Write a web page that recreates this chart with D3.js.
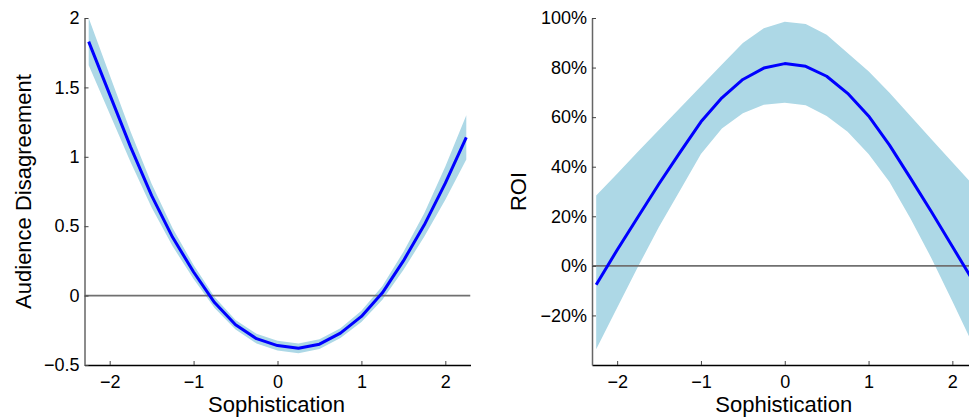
<!DOCTYPE html>
<html>
<head>
<meta charset="utf-8">
<script src="https://cdn.jsdelivr.net/npm/d3@7"></script>
<style>
  body { margin: 0; background: #fff; }
  text { font-family: "Liberation Sans", Arial, sans-serif; fill: #000; }
</style>
</head>
<body>
<svg id="chart" width="969" height="417"></svg>
<script>
// sophistication grid shared by both panels
const soph = [-2.25, -2, -1.75, -1.5, -1.25, -1, -0.75, -0.5, -0.25, 0, 0.25, 0.5, 0.75, 1, 1.25, 1.5, 1.75, 2, 2.25];

// left panel: audience disagreement
const disagree      = [1.83, 1.45, 1.07, 0.72, 0.42, 0.17, -0.05, -0.21, -0.31, -0.36, -0.38, -0.35, -0.27, -0.15, 0.02, 0.25, 0.51, 0.81, 1.14];
const disagreeUpper = [2.00, 1.59, 1.18, 0.805, 0.485, 0.22, -0.01, -0.175, -0.275, -0.325, -0.345, -0.315, -0.235, -0.11, 0.07, 0.315, 0.595, 0.93, 1.30];
const disagreeLower = [1.66, 1.31, 0.96, 0.635, 0.355, 0.12, -0.09, -0.245, -0.345, -0.395, -0.415, -0.385, -0.305, -0.19, -0.03, 0.185, 0.425, 0.69, 0.98];

// right panel: ROI
const roi      = [-0.076, 0.064, 0.198, 0.331, 0.458, 0.581, 0.678, 0.752, 0.798, 0.816, 0.805, 0.765, 0.696, 0.605, 0.487, 0.354, 0.218, 0.078, -0.062];
const roiUpper = [0.284, 0.372, 0.461, 0.549, 0.637, 0.725, 0.812, 0.899, 0.959, 0.985, 0.976, 0.932, 0.859, 0.785, 0.698, 0.605, 0.511, 0.418, 0.325];
const roiLower = [-0.336, -0.169, -0.003, 0.158, 0.304, 0.451, 0.554, 0.616, 0.650, 0.658, 0.648, 0.605, 0.541, 0.451, 0.338, 0.191, 0.031, -0.143, -0.32];

// ticks
const xTicks = [-2, -1, 0, 1, 2];
const leftTicks = [-0.5, 0, 0.5, 1, 1.5, 2];
const rightTicks = [-0.2, 0, 0.2, 0.4, 0.6, 0.8, 1.0];

const svg = d3.select('#chart');

function drawPanel(opts) {
    const { id, left, right, top, bottom, yDomain, yTicks, yFmt, yLabel, yLabelX, mid, lo, hi } = opts;

    const x = d3.scaleLinear().domain([-2.3, 2.3]).range([left, right]);
    const y = d3.scaleLinear().domain(yDomain).range([bottom, top]);

    svg.append('clipPath').attr('id', id)
        .append('rect')
        .attr('x', left).attr('y', top)
        .attr('width', right - left).attr('height', bottom - top);

    const g = svg.append('g');
    const plot = g.append('g').attr('clip-path', `url(#${id})`);

    const rows = soph.map((s, i) => ({ s, m: mid[i], lo: lo[i], hi: hi[i] }));

    // confidence band
    plot.append('path')
        .datum(rows)
        .attr('fill', '#add8e6')
        .attr('d', d3.area().x(d => x(d.s)).y0(d => y(d.lo)).y1(d => y(d.hi)));

    // zero reference
    plot.append('line')
        .attr('x1', left).attr('x2', right)
        .attr('y1', y(0)).attr('y2', y(0))
        .attr('stroke', '#707070')
        .attr('stroke-width', 1.6);

    // estimate
    plot.append('path')
        .datum(rows)
        .attr('fill', 'none')
        .attr('stroke', '#0000ff')
        .attr('stroke-width', 3)
        .attr('stroke-linejoin', 'round')
        .attr('d', d3.line().x(d => x(d.s)).y(d => y(d.m)));

    // axes, ticks pointing inwards like matlab
    const xAxis = g.append('g')
        .attr('transform', `translate(0,${bottom})`)
        .call(d3.axisBottom(x).tickValues(xTicks).tickSizeInner(-4).tickSizeOuter(0).tickPadding(10).tickFormat(d3.format('~g')));
    xAxis.select('.domain').attr('stroke', '#000').attr('stroke-width', 1.5);
    xAxis.selectAll('.tick line').attr('stroke', '#444');
    xAxis.selectAll('text').attr('font-size', 18);

    const yAxis = g.append('g')
        .attr('transform', `translate(${left},0)`)
        .call(d3.axisLeft(y).tickValues(yTicks).tickSizeInner(-4).tickSizeOuter(0).tickPadding(5).tickFormat(yFmt));
    yAxis.select('.domain').attr('stroke', '#666').attr('stroke-width', 1.5);
    yAxis.selectAll('.tick line').attr('stroke', '#444');
    yAxis.selectAll('text').attr('font-size', 18);

    g.append('text')
        .attr('x', x(0) - 1).attr('y', 412)
        .attr('text-anchor', 'middle')
        .attr('font-size', 22)
        .text('Sophistication');

    g.append('text')
        .attr('transform', `translate(${yLabelX},${(top + bottom) / 2}) rotate(-90)`)
        .attr('text-anchor', 'middle')
        .attr('font-size', 22)
        .text(yLabel);
}

drawPanel({
    id: 'clipLeft', left: 84.5, right: 470.5, top: 18, bottom: 365,
    yDomain: [-0.5, 2], yTicks: leftTicks, yFmt: d3.format('~g'),
    yLabel: 'Audience Disagreement', yLabelX: 31,
    mid: disagree, lo: disagreeLower, hi: disagreeUpper
});

drawPanel({
    id: 'clipRight', left: 592, right: 977.5, top: 18, bottom: 365,
    yDomain: [-0.4, 1.0], yTicks: rightTicks, yFmt: d3.format('.0%'),
    yLabel: 'ROI', yLabelX: 526,
    mid: roi, lo: roiLower, hi: roiUpper
});
</script>
</body>
</html>
